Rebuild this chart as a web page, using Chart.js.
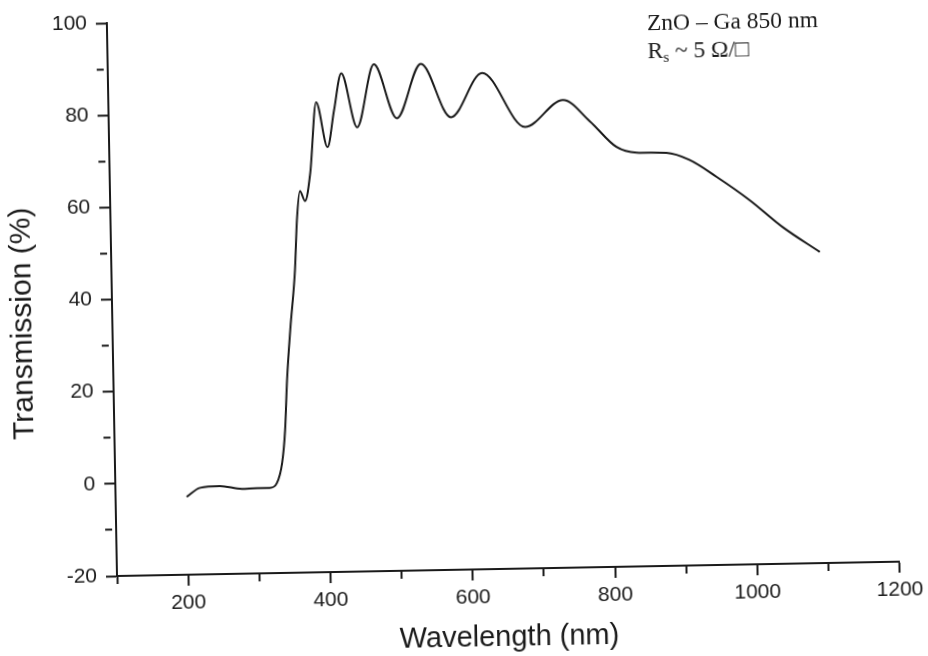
<!DOCTYPE html>
<html>
<head>
<meta charset="utf-8">
<script src="https://cdn.jsdelivr.net/npm/chart.js@4.4.1/dist/chart.umd.min.js"></script>
<style>
  html, body { margin: 0; padding: 0; background: #ffffff; overflow: hidden; width: 928px; height: 656px; }
  #c { display: block; transform: rotate(-1.05deg); transform-origin: 117px 576px; }
</style>
</head>
<body>
<canvas id="c" width="928" height="680"></canvas>
<script>
// Wavelength (nm) and transmission (%)
const wavelength = [200, 219, 247, 278, 299, 317, 327, 335, 340, 344, 350, 358, 362, 367, 374, 382, 392, 407, 417, 428, 449, 474, 505, 540, 581, 626, 685, 739, 776, 813, 841, 883, 915, 953, 999, 1044, 1096];
const transmission = [-3.1, -1.2, -0.9, -1.6, -1.5, -1.5, -0.5, 3.9, 11, 21.8, 33, 45.7, 56.5, 62.8, 60.6, 66.7, 82, 72.2, 80.2, 88.2, 76.4, 90, 78.2, 89.9, 78.2, 87.7, 75.8, 81.5, 76.8, 71.1, 69.8, 69.6, 68, 64.2, 59, 53.1, 47.5];

const xTickLabels = [200, 400, 600, 800, 1000, 1200];
const yTickLabels = [-20, 0, 20, 40, 60, 80, 100];
const annotationLine1 = 'ZnO – Ga 850 nm';
const annotationLine2 = ['R', 's', ' ~ 5 Ω/□'];
const xTitle = 'Wavelength (nm)';
const yTitle = 'Transmission (%)';

const points = wavelength.map((w, i) => ({ x: w, y: transmission[i] }));

const ink = '#1a1a1a';

const textPlugin = {
  id: 'texts',
  afterDraw(chart) {
    const ctx = chart.ctx;
    ctx.save();
    ctx.fillStyle = ink;
    // y title
    ctx.save();
    ctx.translate(28, 322);
    ctx.rotate(-Math.PI / 2);
    ctx.font = '30px "Liberation Sans", Arial, sans-serif';
    ctx.textAlign = 'center';
    ctx.textBaseline = 'middle';
    ctx.fillText(yTitle, 0, 0);
    ctx.restore();
    // annotation
    ctx.textAlign = 'left';
    ctx.textBaseline = 'alphabetic';
    ctx.font = '23.5px "Liberation Serif", "Times New Roman", serif';
    ctx.fillText(annotationLine1, 657, 40);
    let x = 657;
    const y2 = 68;
    ctx.fillText(annotationLine2[0], x, y2);
    x += ctx.measureText(annotationLine2[0]).width;
    ctx.font = '15px "Liberation Serif", "Times New Roman", serif';
    ctx.fillText(annotationLine2[1], x, y2 + 4);
    x += ctx.measureText(annotationLine2[1]).width;
    ctx.font = '23.5px "Liberation Serif", "Times New Roman", serif';
    ctx.fillText(annotationLine2[2], x, y2);
    ctx.restore();
  }
};

const minorDash = (step) => (ctx) => {
  const v = ctx.tick ? ctx.tick.value : 0;
  return (Math.round(v) % step !== 0) ? [7, 60] : [];
};

new Chart(document.getElementById('c'), {
  type: 'line',
  data: {
    datasets: [{
      data: points,
      borderColor: ink,
      borderWidth: 2,
      pointRadius: 0,
      fill: false,
      cubicInterpolationMode: 'monotone'
    }]
  },
  options: {
    responsive: false,
    animation: false,
    events: [],
    layout: { padding: { left: 0, top: 23, right: 28, bottom: 24 } },
    plugins: { legend: { display: false }, tooltip: { enabled: false }, title: { display: false } },
    scales: {
      x: {
        type: 'linear',
        min: 100,
        max: 1200,
        afterFit: (s) => { s.height = 80; },
        border: { display: true, color: ink, width: 2 },
        grid: {
          display: true,
          drawOnChartArea: false,
          drawTicks: true,
          tickLength: 11,
          tickWidth: 2,
          tickColor: ink,
          tickBorderDash: minorDash(200)
        },
        ticks: {
          stepSize: 100,
          autoSkip: false,
          maxRotation: 0,
          padding: 5,
          color: ink,
          font: { family: '"Liberation Sans", Arial, sans-serif', size: 21 },
          callback: (v) => xTickLabels.includes(v) ? String(v) : ''
        },
        title: {
          display: true,
          text: xTitle,
          color: ink,
          font: { family: '"Liberation Sans", Arial, sans-serif', size: 29, lineHeight: 1 },
          padding: { top: 0, bottom: -3 }
        }
      },
      y: {
        type: 'linear',
        min: -20,
        max: 100,
        afterFit: (s) => { s.width = 117; },
        border: { display: true, color: ink, width: 2 },
        grid: {
          display: true,
          drawOnChartArea: false,
          drawTicks: true,
          tickLength: 11,
          tickWidth: 2,
          tickColor: ink,
          tickBorderDash: minorDash(20)
        },
        ticks: {
          stepSize: 10,
          autoSkip: false,
          padding: 9,
          color: ink,
          font: { family: '"Liberation Sans", Arial, sans-serif', size: 21 },
          callback: (v) => yTickLabels.includes(v) ? String(v) : ''
        }
      }
    }
  },
  plugins: [textPlugin]
});
</script>
</body>
</html>
